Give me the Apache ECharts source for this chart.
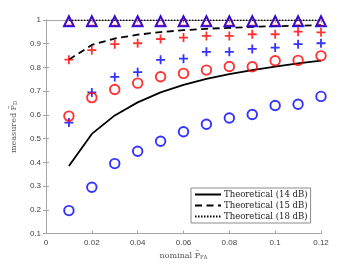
<!DOCTYPE html>
<html><head><meta charset="utf-8">
<script src="https://cdn.jsdelivr.net/npm/echarts@6/dist/echarts.min.js"></script>
<style>html,body{margin:0;padding:0;background:#fff}#c{width:354px;height:266px}</style>
</head><body><div id="c"></div>
<script>
const xVals = [0.01,0.02,0.03,0.04,0.05,0.06,0.07,0.08,0.09,0.10,0.11,0.12];
const theo14 = [0.385,0.52,0.598,0.653,0.695,0.727,0.752,0.772,0.789,0.804,0.817,0.829];
const theo15 = [0.833,0.895,0.922,0.938,0.949,0.957,0.963,0.967,0.971,0.974,0.976,0.978];
const theo18 = [0.999,0.999,0.999,0.999,0.999,0.999,0.999,0.999,0.999,0.999,0.999,0.999];
const redPlus = [0.833,0.873,0.898,0.902,0.92,0.926,0.933,0.933,0.94,0.94,0.951,0.948];
const bluePlus = [0.568,0.695,0.76,0.78,0.832,0.837,0.866,0.866,0.878,0.884,0.898,0.902];
const redCircle = [0.595,0.673,0.707,0.734,0.761,0.775,0.789,0.804,0.803,0.828,0.83,0.849];
const blueCircle = [0.197,0.295,0.395,0.447,0.489,0.529,0.561,0.587,0.602,0.64,0.645,0.678];
const redTri = [0.995,0.995,0.995,0.995,0.995,0.995,0.995,0.995,0.995,0.995,0.995,0.995];
const blueTri = [0.995,0.995,0.995,0.995,0.995,0.995,0.995,0.995,0.995,0.995,0.995,0.995];
const legendNames = ['Theoretical (14 dB)','Theoretical (15 dB)','Theoretical (18 dB)'];

const pair = arr => xVals.map((x,i)=>[x,arr[i]]);
const plusPath = 'path://M4,0H6V4H10V6H6V10H4V6H0V4H4Z';
const axisCol = '#a6a6a6';
const fmt = v => parseFloat(v.toFixed(2)).toString();

function scatter(name, data, symbol, color, size, hollow){
  return {name, type:'scatter', data:pair(data), symbol, symbolSize:size, z:3,
    itemStyle: hollow ? {color:'rgba(0,0,0,0)', borderColor:color, borderWidth:1.9} : {color:color},
    emphasis:{disabled:true}};
}
const chart = echarts.init(document.getElementById('c'), null, {renderer:'canvas'});
chart.setOption({
  animation:false,
  grid:{left:46,right:33,top:20,bottom:29,containLabel:false},
  xAxis:[
    {type:'value',min:0,max:0.12,interval:0.02,
     axisLine:{show:true,lineStyle:{color:axisCol,width:1}},
     axisTick:{show:true,inside:true,length:3,lineStyle:{color:axisCol}},
     axisLabel:{formatter:fmt,fontSize:8,color:'#444',fontFamily:'Liberation Sans',margin:5},
     splitLine:{show:false},
     name:'{n|nominal P\u0304}{s|FA}',nameLocation:'middle',nameGap:15,
     nameTextStyle:{rich:{n:{fontFamily:'DejaVu Serif',fontSize:8,color:'#555'},s:{fontFamily:'DejaVu Serif',fontSize:5.5,color:'#555',padding:[5,0,0,0]}}}},
    {type:'value',position:'top',min:0,max:0.12,interval:0.02,
     axisLine:{show:true,lineStyle:{color:axisCol,width:1}},
     axisTick:{show:true,inside:true,length:3,lineStyle:{color:axisCol}},
     axisLabel:{show:false},splitLine:{show:false}}
  ],
  yAxis:[
    {type:'value',min:0.1,max:1,interval:0.1,
     axisLine:{show:true,lineStyle:{color:axisCol,width:1}},
     axisTick:{show:true,inside:true,length:3,lineStyle:{color:axisCol}},
     axisLabel:{formatter:fmt,fontSize:8,color:'#444',fontFamily:'Liberation Sans',margin:5},
     splitLine:{show:false},
     name:'{n|measured P\u0304}{s|D}',nameLocation:'middle',nameGap:24,nameRotate:90,
     nameTextStyle:{rich:{n:{fontFamily:'DejaVu Serif',fontSize:8,color:'#555'},s:{fontFamily:'DejaVu Serif',fontSize:5.5,color:'#555',padding:[5,0,0,0]}}}},
    {type:'value',position:'right',min:0.1,max:1,interval:0.1,
     axisLine:{show:true,lineStyle:{color:axisCol,width:1}},
     axisTick:{show:true,inside:true,length:3,lineStyle:{color:axisCol}},
     axisLabel:{show:false},splitLine:{show:false}}
  ],
  legend:{data:legendNames,orient:'vertical',left:191,top:188,
    backgroundColor:'#fff',borderColor:'#8c8c8c',borderWidth:1,borderRadius:0,
    padding:[2,3,2,3],itemGap:2,itemWidth:26,itemHeight:10,
    itemStyle:{color:'rgba(0,0,0,0)',borderWidth:0,opacity:0},
    textStyle:{fontFamily:'DejaVu Serif',fontSize:8.5,color:'#222',padding:[0,0,0,-2]},
    selectedMode:false},
  series:[
    {name:legendNames[0],type:'line',data:pair(theo14),symbol:'none',lineStyle:{color:'#000',width:1.8,type:'solid'},itemStyle:{color:'#000'},z:2},
    {name:legendNames[1],type:'line',data:pair(theo15),symbol:'none',lineStyle:{color:'#000',width:1.8,type:[7,4.5]},itemStyle:{color:'#000'},z:2},
    {name:legendNames[2],type:'line',data:pair(theo18),symbol:'none',lineStyle:{color:'#000',width:1.6,type:[1.5,1.5]},itemStyle:{color:'#000'},z:2},
    scatter('rp',redPlus,plusPath,'#ff0000',9,false),
    scatter('bp',bluePlus,plusPath,'#0000ff',9,false),
    scatter('rc',redCircle,'circle','#ff0000',9.5,true),
    scatter('bc',blueCircle,'circle','#0000ff',9.5,true),
    scatter('rt',redTri,'triangle','#ff0000',9,true),
    scatter('bt',blueTri,'triangle','#0000ff',10,true)
  ]
});
</script></body></html>
